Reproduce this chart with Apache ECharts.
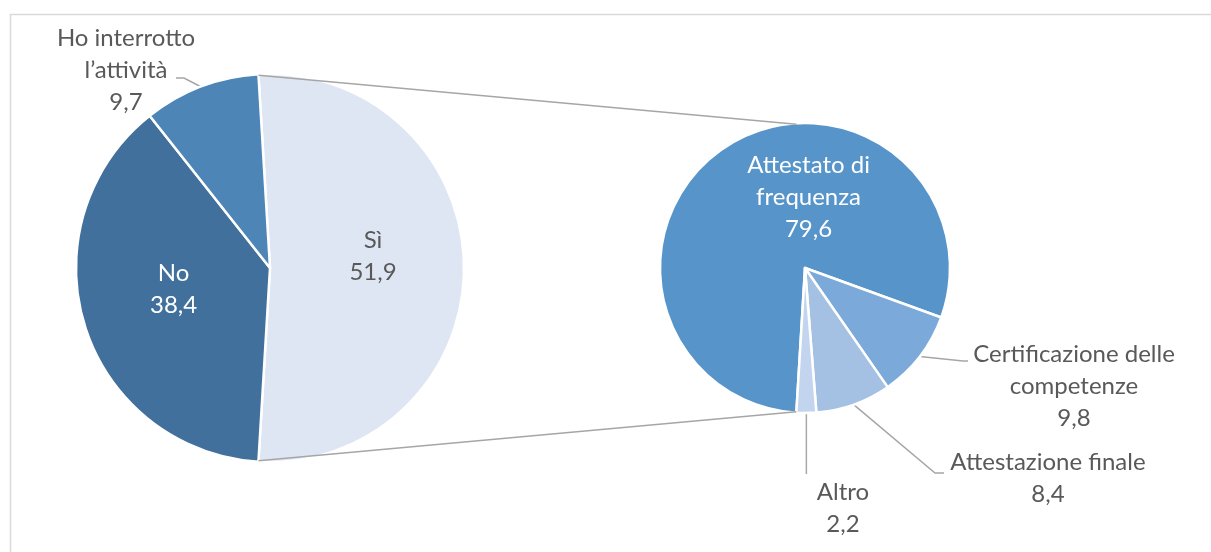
<!DOCTYPE html>
<html lang="it">
<head>
    <meta charset="utf-8"/>
    <title>Pie of pie</title>
    <script src="https://cdn.jsdelivr.net/npm/echarts@6/dist/echarts.min.js"></script>
    <style>
        html, body { margin: 0; padding: 0; background: #fff; }
        #main { width: 1211px; height: 552px; }
    </style>
</head>
<body>
<div id="main"></div>
<script>
    // dati
    var mainNames = ['Sì', 'No', 'Ho interrotto\nl’attività'];
    var mainValues = [51.9, 38.4, 9.7];
    var subNames = ['Attestato di\nfrequenza', 'Certificazione delle\ncompetenze', 'Attestazione finale', 'Altro'];
    var subValues = [79.6, 9.8, 8.4, 2.2];

    var mainColors = ['#dfe6f3', '#41709c', '#4d85b7'];
    var subColors = ['#5694ca', '#7ba9d9', '#a4c0e3', '#c3d5ee'];

    var leftC = [270, 268], leftR = 194;
    var rightC = [805, 268], rightR = 145;

    function fmt(v) {
        return v.toFixed(1).replace('.', ',');
    }

    var total = mainValues.reduce(function (a, b) { return a + b; }, 0);
    // the split slice (Sì) is centred on the right side
    var half = mainValues[0] / total * 180;

    function rimPoint(c, r, deg) {
        var a = deg * Math.PI / 180;
        return [c[0] + r * Math.cos(a), c[1] - r * Math.sin(a)];
    }

    var p1 = rimPoint(leftC, leftR - 1, half), p2 = rimPoint(leftC, leftR - 1, -half);
    var q1 = rimPoint(rightC, rightR - 1, half), q2 = rimPoint(rightC, rightR - 1, -half);

    var chart = echarts.init(document.getElementById('main'));

    var textStyle = {
        fontFamily: 'Lato',
        fontSize: 24,
        lineHeight: 32,
        color: '#595959'
    };

    var mainData = mainNames.map(function (n, i) {
        var d = {name: n, value: mainValues[i], itemStyle: {color: mainColors[i]}};
        if (i === 0) d.label = {position: 'inside', offset: [3, -12]};
        if (i === 1) d.label = {position: 'inside', color: '#fff', offset: [-1, -9]};
        if (i === 2) d.label = {position: 'outside'};
        d.labelLine = {show: i === 2};
        return d;
    });

    var subData = subNames.map(function (n, i) {
        var d = {name: n, value: subValues[i], itemStyle: {color: subColors[i]}};
        if (i === 0) d.label = {position: 'inside', color: '#fff', offset: [45, -8]};
        else d.label = {position: 'outside'};
        d.labelLine = {show: i !== 0};
        return d;
    });

    var option = {
        animation: false,
        graphic: [
            {
                type: 'rect',
                shape: {x: 10.5, y: 14.5, width: 1400, height: 700},
                style: {fill: 'none', stroke: '#d9d9d9', lineWidth: 1.5}
            },
            {
                type: 'line', z: 10,
                shape: {x1: p1[0], y1: p1[1], x2: q1[0], y2: q1[1]},
                style: {stroke: '#a6a6a6', lineWidth: 1.5}
            },
            {
                type: 'line', z: 10,
                shape: {x1: p2[0], y1: p2[1], x2: q2[0], y2: q2[1]},
                style: {stroke: '#a6a6a6', lineWidth: 1.5}
            }
        ],
        series: [
            {
                type: 'pie',
                center: leftC,
                radius: leftR,
                startAngle: half,
                clockwise: true,
                avoidLabelOverlap: false,
                silent: true,
                itemStyle: {borderColor: '#fff', borderWidth: 2.5},
                label: Object.assign({
                    formatter: function (p) { return p.name + '\n' + fmt(p.value); },
                    align: 'center'
                }, textStyle),
                labelLine: {lineStyle: {color: '#a6a6a6', width: 1.5}},
                labelLayout: function (p) {
                    if (p.dataIndex !== 2) return {};
                    return {
                        x: 126, y: 70, align: 'center', verticalAlign: 'middle',
                        labelLinePoints: [p.labelLinePoints[0], [184, 78], [176, 78]]
                    };
                },
                data: mainData
            },
            {
                type: 'pie',
                center: rightC,
                radius: rightR,
                startAngle: -half,
                clockwise: true,
                avoidLabelOverlap: false,
                silent: true,
                itemStyle: {borderColor: '#fff', borderWidth: 2.5},
                label: Object.assign({
                    formatter: function (p) { return p.name + '\n' + fmt(p.value); },
                    align: 'center'
                }, textStyle),
                labelLine: {lineStyle: {color: '#a6a6a6', width: 1.5}},
                labelLayout: function (p) {
                    var s = p.labelLinePoints ? p.labelLinePoints[0] : null;
                    if (p.dataIndex === 1) {
                        return {x: 1074, y: 386, align: 'center', verticalAlign: 'middle',
                            labelLinePoints: [s, [963, 361], [968, 361]]};
                    }
                    if (p.dataIndex === 2) {
                        return {x: 1048, y: 478, align: 'center', verticalAlign: 'middle',
                            labelLinePoints: [s, [935, 473], [944, 473]]};
                    }
                    if (p.dataIndex === 3) {
                        return {x: 843, y: 508, align: 'center', verticalAlign: 'middle',
                            labelLinePoints: [s, [s[0], 474], [s[0], 474]]};
                    }
                    return {};
                },
                data: subData
            }
        ]
    };

    chart.setOption(option);
</script>
</body>
</html>
